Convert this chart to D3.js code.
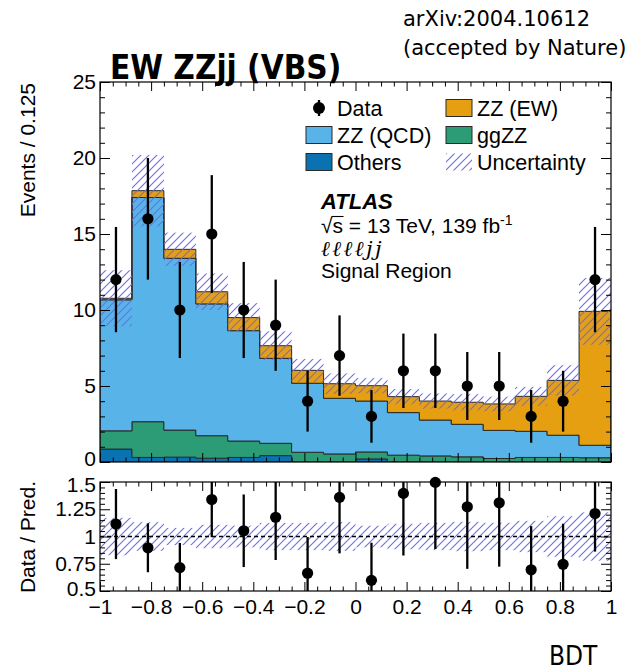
<!DOCTYPE html>
<html>
<head>
<meta charset="utf-8">
<script src="https://cdn.jsdelivr.net/npm/d3@7"></script>
<style>
  body { margin: 0; background: #fff; }
  svg { display: block; }
</style>
</head>
<body>
<svg id="chart" width="634" height="671"></svg>
<script>
// ---- Histogram content: BDT score, 16 bins of width 0.125 ----
const binLow = [-1, -0.875, -0.75, -0.625, -0.5, -0.375, -0.25, -0.125,
                0, 0.125, 0.25, 0.375, 0.5, 0.625, 0.75, 0.875];
const binWidth = 0.125;

// Observed events per bin
const dataCounts = [12, 16, 10, 15, 10, 9, 4, 7, 3, 6, 6, 5, 5, 3, 4, 12];

// Predicted contributions (stacked bottom to top)
const others = [0.85, 0.30, 0.32, 0.25, 0.30, 0.42, 0, 0, 0.20, 0, 0, 0, 0, 0, 0, 0];
const ggZZ   = [1.20, 2.35, 1.78, 1.48, 1.08, 0.81, 0.64, 0.53, 0.46, 0.45, 0.40, 0.34, 0.23, 0.30, 0.30, 0.28];
const zzQCD  = [8.62, 14.75, 11.30, 8.67, 7.26, 5.59, 4.54, 3.66, 3.35, 2.80, 2.36, 2.14, 1.85, 1.72, 1.46, 0.82];
const zzEW   = [0.10, 0.45, 0.59, 0.80, 0.86, 0.83, 0.85, 0.96, 1.01, 1.05, 1.25, 1.45, 1.74, 2.30, 3.61, 8.81];

// Absolute uncertainty on the total prediction
const totalUnc = [1.85, 2.35, 1.10, 1.20, 0.95, 0.95, 0.75, 0.68, 0.50, 0.50, 0.50, 0.53, 0.48, 0.62, 1.00, 2.20];

// Axis ticks and labels
const xTicks = [-1, -0.8, -0.6, -0.4, -0.2, 0, 0.2, 0.4, 0.6, 0.8, 1];
const xTickLabels = ["\u22121", "\u22120.8", "\u22120.6", "\u22120.4", "\u22120.2", "0", "0.2", "0.4", "0.6", "0.8", "1"];
const yTicks = [0, 5, 10, 15, 20, 25];
const ratioTicks = [0.5, 0.75, 1, 1.25, 1.5];
const ratioTickLabels = ["0.5", "0.75", "1", "1.25", "1.5"];

// Sample names and colours
const sampleKeys = ["others", "ggZZ", "qcd", "ew"];
const sampleColor = { others: "#0a72b0", ggZZ: "#2b9c76", qcd: "#58b4e8", ew: "#e69f10" };

// ---- Layout ----
const L = 100, R = 611;
const mainTop = 82, mainBot = 462;
const ratTop = 482, ratBot = 591;
const tickFont = "'Liberation Sans', Arial, Helvetica, sans-serif";

const svg = d3.select("#chart");

const x = d3.scaleLinear().domain([-1, 1]).range([L, R]);
const y = d3.scaleLinear().domain([0, 25]).range([mainBot, mainTop]);
const yr = d3.scaleLinear().domain([0.5, 1.5]).range([ratBot, ratTop]);

// Hatch pattern for the uncertainty band
const defs = svg.append("defs");
const pat = defs.append("pattern")
  .attr("id", "hatch").attr("patternUnits", "userSpaceOnUse")
  .attr("width", 8).attr("height", 8);
pat.append("path")
  .attr("d", "M-2,2 l4,-4 M0,8 l8,-8 M6,10 l4,-4")
  .attr("stroke", "#6c6cf0").attr("stroke-width", 1.1).attr("fill", "none");

defs.append("clipPath").attr("id", "clipMain")
  .append("rect").attr("x", L).attr("y", mainTop).attr("width", R - L).attr("height", mainBot - mainTop);
defs.append("clipPath").attr("id", "clipRatio")
  .append("rect").attr("x", L).attr("y", ratTop).attr("width", R - L).attr("height", ratBot - ratTop);

// ---- Stacked prediction ----
const rows = binLow.map((lo, i) => ({
  lo, hi: lo + binWidth,
  others: others[i], ggZZ: ggZZ[i], qcd: zzQCD[i], ew: zzEW[i]
}));
const stacked = d3.stack().keys(sampleKeys)(rows);
const total = stacked[stacked.length - 1].map(d => d[1]);

const stepArea = d3.area()
  .x(p => x(p.x)).y0(p => y(p.y0)).y1(p => y(p.y1));

const gMain = svg.append("g").attr("clip-path", "url(#clipMain)");

stacked.forEach(layer => {
  const pts = layer.flatMap(d => [
    { x: d.data.lo, y0: d[0], y1: d[1] },
    { x: d.data.hi, y0: d[0], y1: d[1] }
  ]);
  gMain.append("path")
    .attr("d", stepArea(pts))
    .attr("fill", sampleColor[layer.key])
    .attr("stroke", "#2a2a2a").attr("stroke-width", 1)
    .attr("stroke-linejoin", "miter");
});

// Uncertainty band on the total
gMain.selectAll("rect.unc").data(rows).join("rect")
  .attr("class", "unc")
  .attr("x", d => x(d.lo))
  .attr("width", d => x(d.hi) - x(d.lo))
  .attr("y", (d, i) => y(total[i] + totalUnc[i]))
  .attr("height", (d, i) => y(total[i] - totalUnc[i]) - y(total[i] + totalUnc[i]))
  .attr("fill", "url(#hatch)");

// Data points with Poisson-like errors
const gData = svg.append("g");
rows.forEach((d, i) => {
  const n = dataCounts[i], e = Math.sqrt(n), cx = x(d.lo + binWidth / 2);
  gData.append("line")
    .attr("x1", cx).attr("x2", cx)
    .attr("y1", y(Math.min(25, n + e))).attr("y2", y(Math.max(0, n - e)))
    .attr("stroke", "#000").attr("stroke-width", 2.3);
  gData.append("circle").attr("cx", cx).attr("cy", y(n)).attr("r", 5.6).attr("fill", "#000");
});

// ---- Axis helpers ----
function minorValues(lo, hi, step, majors) {
  return d3.range(lo, hi + step / 2, step)
    .map(v => Math.round(v * 1000) / 1000)
    .filter(v => !majors.some(m => Math.abs(m - v) < 1e-6));
}
function cleanAxis(g) {
  g.select(".domain").remove();
  g.selectAll("line").attr("stroke", "#000").attr("stroke-width", 1);
  g.selectAll("text").attr("font-family", tickFont).attr("font-size", 21).attr("fill", "#000");
}

const xMinor = minorValues(-1, 1, 0.05, xTicks);

function xAxes(top, bot, withLabels) {
  svg.append("g").attr("transform", `translate(0,${bot})`)
    .call(d3.axisBottom(x).tickValues(xTicks).tickSize(-9).tickPadding(8)
      .tickFormat((v, i) => withLabels ? xTickLabels[i] : ""))
    .call(cleanAxis);
  svg.append("g").attr("transform", `translate(0,${bot})`)
    .call(d3.axisBottom(x).tickValues(xMinor).tickSize(-4.5).tickFormat(""))
    .call(cleanAxis);
  svg.append("g").attr("transform", `translate(0,${top})`)
    .call(d3.axisTop(x).tickValues(xTicks).tickSize(-9).tickFormat(""))
    .call(cleanAxis);
  svg.append("g").attr("transform", `translate(0,${top})`)
    .call(d3.axisTop(x).tickValues(xMinor).tickSize(-4.5).tickFormat(""))
    .call(cleanAxis);
}

// Main panel axes
xAxes(mainTop, mainBot, false);
const yMinor = minorValues(0, 25, 1, yTicks);
svg.append("g").attr("transform", `translate(${L},0)`)
  .call(d3.axisLeft(y).tickValues(yTicks).tickSize(-10).tickPadding(4).tickFormat(d3.format("d")))
  .call(cleanAxis)
  .call(g => g.selectAll(".tick text").filter(v => v === 0).attr("dy", "0.15em"));
svg.append("g").attr("transform", `translate(${L},0)`)
  .call(d3.axisLeft(y).tickValues(yMinor).tickSize(-5).tickFormat(""))
  .call(cleanAxis);
svg.append("g").attr("transform", `translate(${R},0)`)
  .call(d3.axisRight(y).tickValues(yTicks).tickSize(-10).tickFormat(""))
  .call(cleanAxis);
svg.append("g").attr("transform", `translate(${R},0)`)
  .call(d3.axisRight(y).tickValues(yMinor).tickSize(-5).tickFormat(""))
  .call(cleanAxis);
svg.append("rect").attr("x", L).attr("y", mainTop).attr("width", R - L).attr("height", mainBot - mainTop)
  .attr("fill", "none").attr("stroke", "#000").attr("stroke-width", 1.2);

// ---- Ratio panel ----
const gRatio = svg.append("g").attr("clip-path", "url(#clipRatio)");
gRatio.selectAll("rect.runc").data(rows).join("rect")
  .attr("class", "runc")
  .attr("x", d => x(d.lo))
  .attr("width", d => x(d.hi) - x(d.lo))
  .attr("y", (d, i) => yr(1 + totalUnc[i] / total[i]))
  .attr("height", (d, i) => yr(1 - totalUnc[i] / total[i]) - yr(1 + totalUnc[i] / total[i]))
  .attr("fill", "url(#hatch)");
gRatio.append("line")
  .attr("x1", L).attr("x2", R).attr("y1", yr(1)).attr("y2", yr(1))
  .attr("stroke", "#000").attr("stroke-width", 1.4).attr("stroke-dasharray", "4,3");
rows.forEach((d, i) => {
  const t = total[i], n = dataCounts[i];
  const v = n / t, e = Math.sqrt(n) / t, cx = x(d.lo + binWidth / 2);
  gRatio.append("line")
    .attr("x1", cx).attr("x2", cx)
    .attr("y1", yr(Math.min(1.5, v + e))).attr("y2", yr(Math.max(0.5, v - e)))
    .attr("stroke", "#000").attr("stroke-width", 2.3);
});
rows.forEach((d, i) => {
  const v = dataCounts[i] / total[i];
  svg.append("circle").attr("cx", x(d.lo + binWidth / 2)).attr("cy", yr(v)).attr("r", 5.6).attr("fill", "#000");
});

xAxes(ratTop, ratBot, true);
const rMinor = minorValues(0.5, 1.5, 0.05, ratioTicks);
svg.append("g").attr("transform", `translate(${L},0)`)
  .call(d3.axisLeft(yr).tickValues(ratioTicks).tickSize(-10).tickPadding(4)
    .tickFormat((v, i) => ratioTickLabels[i]))
  .call(cleanAxis)
  .call(g => g.selectAll(".tick text").filter(v => v === 0.5).attr("dy", "0.2em"))
  .call(g => g.selectAll(".tick text").filter(v => v === 1.5).attr("dy", "0.45em"));
svg.append("g").attr("transform", `translate(${L},0)`)
  .call(d3.axisLeft(yr).tickValues(rMinor).tickSize(-5).tickFormat(""))
  .call(cleanAxis);
svg.append("g").attr("transform", `translate(${R},0)`)
  .call(d3.axisRight(yr).tickValues(ratioTicks).tickSize(-10).tickFormat(""))
  .call(cleanAxis);
svg.append("g").attr("transform", `translate(${R},0)`)
  .call(d3.axisRight(yr).tickValues(rMinor).tickSize(-5).tickFormat(""))
  .call(cleanAxis);
svg.append("rect").attr("x", L).attr("y", ratTop).attr("width", R - L).attr("height", ratBot - ratTop)
  .attr("fill", "none").attr("stroke", "#000").attr("stroke-width", 1.2);

// ---- Axis titles ----
svg.append("text")
  .attr("transform", `translate(35,83) rotate(-90)`)
  .attr("text-anchor", "end")
  .attr("font-family", tickFont).attr("font-size", 21)
  .text("Events / 0.125");
svg.append("text")
  .attr("transform", `translate(35,481) rotate(-90)`)
  .attr("text-anchor", "end")
  .attr("font-family", tickFont).attr("font-size", 21)
  .text("Data / Pred.");
svg.append("text")
  .attr("x", 549).attr("y", 665)
  .attr("font-family", "'DejaVu Sans Condensed', 'DejaVu Sans', sans-serif")
  .attr("font-stretch", "condensed")
  .attr("font-size", 26)
  .text("BDT");

// ---- Titles ----
svg.append("text")
  .attr("x", 110).attr("y", 79)
  .attr("font-family", "'DejaVu Sans Condensed', 'DejaVu Sans', sans-serif")
  .attr("font-stretch", "condensed")
  .attr("font-weight", "bold").attr("font-size", 33)
  .text("EW ZZjj (VBS)");
const note = svg.append("text")
  .attr("font-family", "'DejaVu Sans', sans-serif").attr("font-size", 21);
note.append("tspan").attr("x", 403).attr("y", 26).text("arXiv:2004.10612");
note.append("tspan").attr("x", 403).attr("y", 55).text("(accepted by Nature)");

// ---- Legend ----
const legFont = 21.5;
const rowsY = [108, 135, 162];
const leg = svg.append("g").attr("font-family", tickFont).attr("font-size", legFont);

// Data marker
leg.append("line").attr("x1", 319).attr("x2", 319).attr("y1", rowsY[0] - 8).attr("y2", rowsY[0] + 8)
  .attr("stroke", "#000").attr("stroke-width", 2.3);
leg.append("circle").attr("cx", 319).attr("cy", rowsY[0]).attr("r", 6).attr("fill", "#000");
leg.append("text").attr("x", 337).attr("y", rowsY[0]).attr("dy", "0.36em").text("Data");

const legendBoxes = [
  { key: "qcd", label: "ZZ (QCD)", bx: 306, row: 1 },
  { key: "others", label: "Others", bx: 306, row: 2 },
  { key: "ew", label: "ZZ (EW)", bx: 446, row: 0 },
  { key: "ggZZ", label: "ggZZ", bx: 446, row: 1 }
];
legendBoxes.forEach(b => {
  leg.append("rect").attr("x", b.bx).attr("y", rowsY[b.row] - 8.5).attr("width", 26).attr("height", 17)
    .attr("fill", sampleColor[b.key]).attr("stroke", "#2a2a2a").attr("stroke-width", 1);
  leg.append("text").attr("x", b.bx + 31).attr("y", rowsY[b.row]).attr("dy", "0.36em").text(b.label);
});
leg.append("rect").attr("x", 446).attr("y", rowsY[2] - 8.5).attr("width", 26).attr("height", 17)
  .attr("fill", "url(#hatch)");
leg.append("text").attr("x", 477).attr("y", rowsY[2]).attr("dy", "0.36em").text("Uncertainty");

// ---- Experiment label ----
const lab = svg.append("g").attr("font-family", tickFont).attr("font-size", 21);
lab.append("text").attr("x", 321).attr("y", 209)
  .attr("font-weight", "bold").attr("font-style", "italic").attr("font-size", 22).text("ATLAS");
const energy = lab.append("text").attr("x", 321).attr("y", 233);
const rootSign = energy.append("tspan").text("\u221A");
const sVar = energy.append("tspan").text("s");
energy.append("tspan").text(" = 13 TeV, 139 fb");
energy.append("tspan").attr("dy", -8).attr("font-size", 14).text("-1");
// bar of the square-root sign over "s"
{
  const node = energy.node();
  const rootW = node.getSubStringLength(0, 1);
  const sW = node.getSubStringLength(1, 1);
  lab.append("line")
    .attr("x1", 321 + rootW - 1).attr("x2", 321 + rootW + sW + 0.5)
    .attr("y1", 233 - 16.5).attr("y2", 233 - 16.5)
    .attr("stroke", "#000").attr("stroke-width", 1.1);
}
lab.append("text").attr("x", 321).attr("y", 256)
  .attr("font-family", "'DejaVu Serif', serif").attr("font-style", "italic").attr("font-size", 21)
  .attr("letter-spacing", 2.5)
  .text("\u2113\u2113\u2113\u2113jj");
lab.append("text").attr("x", 321).attr("y", 278).text("Signal Region");
</script>
</body>
</html>
